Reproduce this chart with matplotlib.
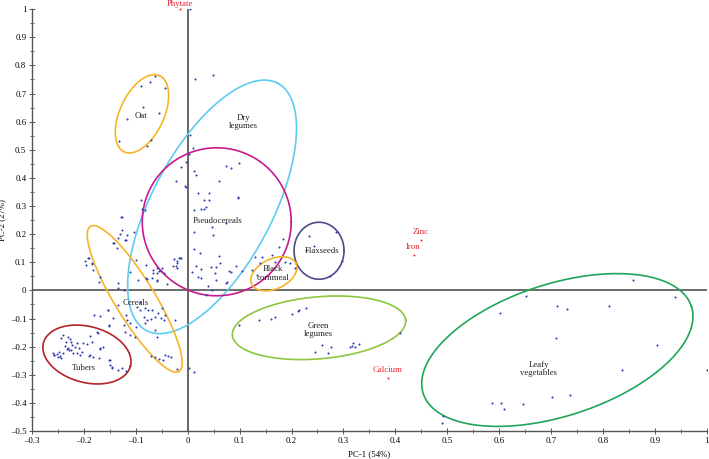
import numpy as np
import matplotlib
matplotlib.use("Agg")
import matplotlib.pyplot as plt
from matplotlib.ticker import MultipleLocator, FuncFormatter

plt.rcParams['font.family'] = ['Liberation Serif', 'DejaVu Serif']

# ---- sample scores (PC-1, PC-2) ----
pc1 = [
    # oat
    -0.132, -0.117, -0.090, -0.086, -0.078, -0.073, -0.071, -0.063, -0.055, -0.044,
    # upper / dry legumes / pseudocereals
    0.015, 0.049, 0.004, 0.005, 0.010, 0.003, -0.004, -0.013, 0.012, 0.017, 0.074, 0.083, 0.098,
    -0.023, -0.004, 0.060, 0.042, 0.020, 0.097, 0.032, 0.041, 0.096, 0.025, 0.032, 0.036,
    -0.089, -0.082, 0.047, 0.048, 0.013, 0.073, 0.012, 0.023, 0.060, 0.062, 0.044, 0.055,
    0.017, 0.025, 0.008, 0.020, 0.026, 0.052, 0.055, 0.080, 0.084, 0.094, 0.075, 0.039,
    0.046, 0.036, -0.015, -0.020, -0.023, -0.050, -0.055, -0.060, -0.066, -0.069, -0.079,
    -0.060, -0.005, 0.012, -0.087, -0.128, -0.127, 0.074, 0.104,
    # black cornmeal
    0.129, 0.162, 0.184, 0.176, 0.139, 0.168, 0.187, 0.207, 0.123, 0.134, 0.143, 0.198,
    # flaxseeds
    0.234, 0.244, 0.228, 0.286, 0.297, 0.274,
    # green legumes
    0.098, 0.137, 0.160, 0.168, 0.200, 0.212, 0.214, 0.227, 0.259, 0.276, 0.246, 0.271,
    0.313, 0.317, 0.318, 0.322, 0.330, 0.409,
    # leafy vegetables
    0.857, 0.651, 0.938, 0.712, 0.731, 0.812, 0.602, 0.710, 0.903, 0.836, 1.000, 0.587,
    0.604, 0.609, 0.646, 0.701, 0.737, 0.492, 0.490,
    # cereals
    -0.127, -0.135, -0.141, -0.130, -0.121, -0.116, -0.103, -0.190, -0.195, -0.184, -0.182,
    -0.169, -0.100, -0.134, -0.134, -0.122, -0.111, -0.095, -0.081, -0.081, -0.060, -0.051,
    -0.067, -0.045, -0.021, -0.016, -0.028, -0.060, -0.039, -0.180, -0.169, -0.154, -0.134,
    -0.143, -0.152, -0.119, -0.116, -0.122, -0.111, -0.121, -0.111, -0.100, -0.102, -0.091,
    -0.082, -0.077, -0.069, -0.084, -0.079, -0.082, -0.071, -0.063, -0.057, -0.049, -0.044,
    -0.045, -0.063, -0.060, -0.024, -0.051, -0.092, -0.098, -0.071, -0.063, -0.055, -0.047,
    -0.037, -0.032, -0.044, -0.020, 0.002, 0.012, -0.144, -0.137, -0.119, -0.198, -0.191,
    -0.184, -0.171, -0.153, -0.026, -0.013, -0.021,
    # tubers
    -0.151, -0.240, -0.243, -0.231, -0.227, -0.224, -0.235, -0.222, -0.217, -0.214, -0.209,
    -0.233, -0.228, -0.247, -0.259, -0.252, -0.245, -0.240, -0.243, -0.258, -0.220, -0.203,
    -0.208, -0.188, -0.185, -0.194, -0.169, -0.188, -0.183, -0.170, -0.163, -0.150, -0.150,
    -0.146, -0.134, -0.118, -0.172, -0.175, -0.201, -0.169, -0.152, -0.145, -0.127, -0.257,
    -0.230, -0.214, -0.190, -0.236, -0.249, -0.225,
]
pc2 = [
    # oat
    0.532, 0.610, 0.728, 0.653, 0.514, 0.742, 0.536, 0.763, 0.632, 0.721,
    # upper / dry legumes / pseudocereals
    0.753, 0.767, 1.000, 0.553, 0.506, 0.485, 0.458, 0.438, 0.425, 0.411, 0.443, 0.435, 0.453,
    0.389, 0.369, 0.389, 0.346, 0.348, 0.332, 0.320, 0.320, 0.328, 0.289, 0.290, 0.298,
    0.320, 0.286, 0.227, 0.198, 0.209, 0.239, 0.147, 0.132, 0.123, 0.097, 0.083, 0.083,
    0.085, 0.075, 0.067, 0.047, 0.043, 0.061, 0.037, 0.070, 0.067, 0.087, 0.031, 0.014,
    0.002, -0.016, 0.115, 0.105, 0.085, 0.079, 0.069, 0.061, 0.073, 0.043, 0.040,
    0.037, 0.370, 0.286, 0.289, 0.260, 0.215, 0.027, 0.070,
    # black cornmeal
    0.120, 0.126, 0.182, 0.156, 0.097, 0.102, 0.102, 0.081, 0.073, 0.055, 0.120, 0.097,
    # flaxseeds
    0.195, 0.159, 0.142, 0.207, 0.105, 0.052,
    # green legumes
    -0.123, -0.105, -0.101, -0.093, -0.084, -0.074, -0.069, -0.061, -0.195, -0.200, -0.219,
    -0.222, -0.200, -0.196, -0.188, -0.200, -0.191, -0.150,
    # leafy vegetables
    0.037, -0.020, -0.022, -0.054, -0.065, -0.057, -0.081, -0.168, -0.194, -0.283, -0.283,
    -0.399, -0.401, -0.421, -0.404, -0.380, -0.373, -0.446, -0.473,
    # cereals
    0.260, 0.186, 0.170, 0.201, 0.180, 0.198, 0.206, 0.115, 0.091, 0.093, 0.073,
    0.047, 0.109, 0.026, 0.008, 0.002, 0.065, 0.037, 0.043, 0.091, 0.079, 0.069,
    0.061, 0.061, 0.097, 0.115, 0.087, 0.034, 0.023, -0.087, -0.091, -0.069, -0.052,
    -0.099, -0.123, -0.087, -0.105, -0.123, -0.117, -0.147, -0.158, -0.129, -0.164, -0.069,
    -0.063, -0.069, -0.069, -0.093, -0.105, -0.117, -0.103, -0.093, -0.081, -0.063, -0.087,
    -0.105, -0.141, -0.164, -0.105, -0.099, -0.040, -0.058, -0.233, -0.238, -0.245, -0.247,
    -0.232, -0.236, -0.229, -0.281, -0.275, -0.289, 0.169, 0.150, 0.180, 0.103, 0.115,
    0.097, 0.031, -0.069, 0.111, 0.115, 0.081,
    # tubers
    -0.126, -0.158, -0.170, -0.167, -0.174, -0.182, -0.182, -0.194, -0.200, -0.188, -0.204,
    -0.209, -0.212, -0.218, -0.221, -0.226, -0.233, -0.224, -0.241, -0.230, -0.221, -0.218,
    -0.230, -0.162, -0.182, -0.190, -0.209, -0.230, -0.236, -0.241, -0.200, -0.247, -0.265,
    -0.277, -0.283, -0.286, -0.152, -0.147, -0.188, -0.205, -0.247, -0.271, -0.277, -0.230,
    -0.204, -0.224, -0.233, -0.196, -0.236, -0.212,
]

# ---- variable loadings (red) ----
var_names = ["Phytate", "Zinc", "Iron", "Calcium"]
var_pc1 = [-0.015, 0.449, 0.435, 0.385]
var_pc2 = [1.000, 0.179, 0.126, -0.310]

# ---- group ellipses ----
groups = ["Oat", "Dry\nlegumes", "Pseudocereals", "Cereals", "Tubers", "Flaxseeds",
          "Black\ncornmeal", "Green\nlegumes", "Leafy\nvegetables"]
group_cx = [-0.088, 0.047, 0.056, -0.102, -0.194, 0.253, 0.166, 0.253, 0.712]
group_cy = [0.628, 0.297, 0.244, -0.030, -0.228, 0.141, 0.059, -0.133, -0.212]
label_x = [-0.090, 0.108, 0.058, -0.100, -0.200, 0.258, 0.164, 0.251, 0.676]
label_y = [0.620, 0.598, 0.247, -0.044, -0.275, 0.141, 0.060, -0.140, -0.280]
# semi-axes (px), rotation (deg, screen), colour
ell_a = [42, 140, 74.5, 85, 45, 25, 24.4, 87, 141]
ell_b = [22, 60, 74, 20, 28, 28.5, 15, 31, 66]
ell_t = [65, 62, 0, -58.6, -15, 0, 25, 5, 18]
ell_c = ["#F5B527", "#5FCBEF", "#C8198E", "#F5B527", "#B3232A", "#4F4A88",
         "#F5B527", "#8DC640", "#20A55A"]

fig = plt.figure(figsize=(7.09, 4.59), dpi=100)
ax = fig.add_axes([0.045, 0.061, 0.952, 0.919])
ax.set_xlim(-0.3, 1.0)
ax.set_ylim(-0.5, 1.0)

bb = ax.get_position()
sx = bb.width * fig.get_figwidth() * fig.dpi / 1.3
sy = bb.height * fig.get_figheight() * fig.dpi / 1.5

ax.axhline(0, color="#444444", lw=1.1, zorder=1)
ax.axvline(0, color="#666666", lw=1.4, zorder=1)

ax.scatter(pc1, pc2, s=2.2, color="#2B3BB0", linewidths=0, zorder=3)

t = np.linspace(0, 2 * np.pi, 300)
for cx, cy, a, b, th, c in zip(group_cx, group_cy, ell_a, ell_b, ell_t, ell_c):
    r = np.deg2rad(th)
    dx = a * np.cos(t) * np.cos(r) - b * np.sin(t) * np.sin(r)
    dy = a * np.cos(t) * np.sin(r) + b * np.sin(t) * np.cos(r)
    ax.plot(cx + dx / sx, cy + dy / sy, color=c, lw=1.2, zorder=2)

for name, lx, ly in zip(groups, label_x, label_y):
    ax.text(lx, ly, name, ha="center", va="center", fontsize=6.3,
            color="#222222", linespacing=1.05, zorder=4)

for name, vx, vy in zip(var_names, var_pc1, var_pc2):
    ax.scatter([vx], [vy], s=2, color="#E8232B", linewidths=0, zorder=3, clip_on=False)
    off = 0.017 if vy > 0.9 else 0.027
    ax.text(vx, vy + off, name, ha="center", va="center", fontsize=6.3,
            color="#E8232B", zorder=4, clip_on=False)

for s in ["top", "right"]:
    ax.spines[s].set_visible(False)
for s in ["left", "bottom"]:
    ax.spines[s].set_color("#555555")
    ax.spines[s].set_linewidth(1.0)

ax.xaxis.set_major_locator(MultipleLocator(0.1))
ax.xaxis.set_minor_locator(MultipleLocator(0.05))
ax.yaxis.set_major_locator(MultipleLocator(0.1))
ax.yaxis.set_minor_locator(MultipleLocator(0.05))
fmt = FuncFormatter(lambda v, p: "{:g}".format(round(v, 2)).replace("-", "\u2013"))
ax.xaxis.set_major_formatter(fmt)
ax.yaxis.set_major_formatter(fmt)
ax.tick_params(which="major", direction="inout", length=4, width=0.7, color="#555555",
               labelsize=6.3, pad=2)
ax.tick_params(which="minor", direction="inout", length=2.5, width=0.6, color="#555555")

ax.set_xlabel("PC-1 (54%)", fontsize=6.3, labelpad=4)
ax.set_ylabel("PC-2 (27%)", fontsize=6.3, labelpad=3)

fig.savefig("out.png", dpi=100)
